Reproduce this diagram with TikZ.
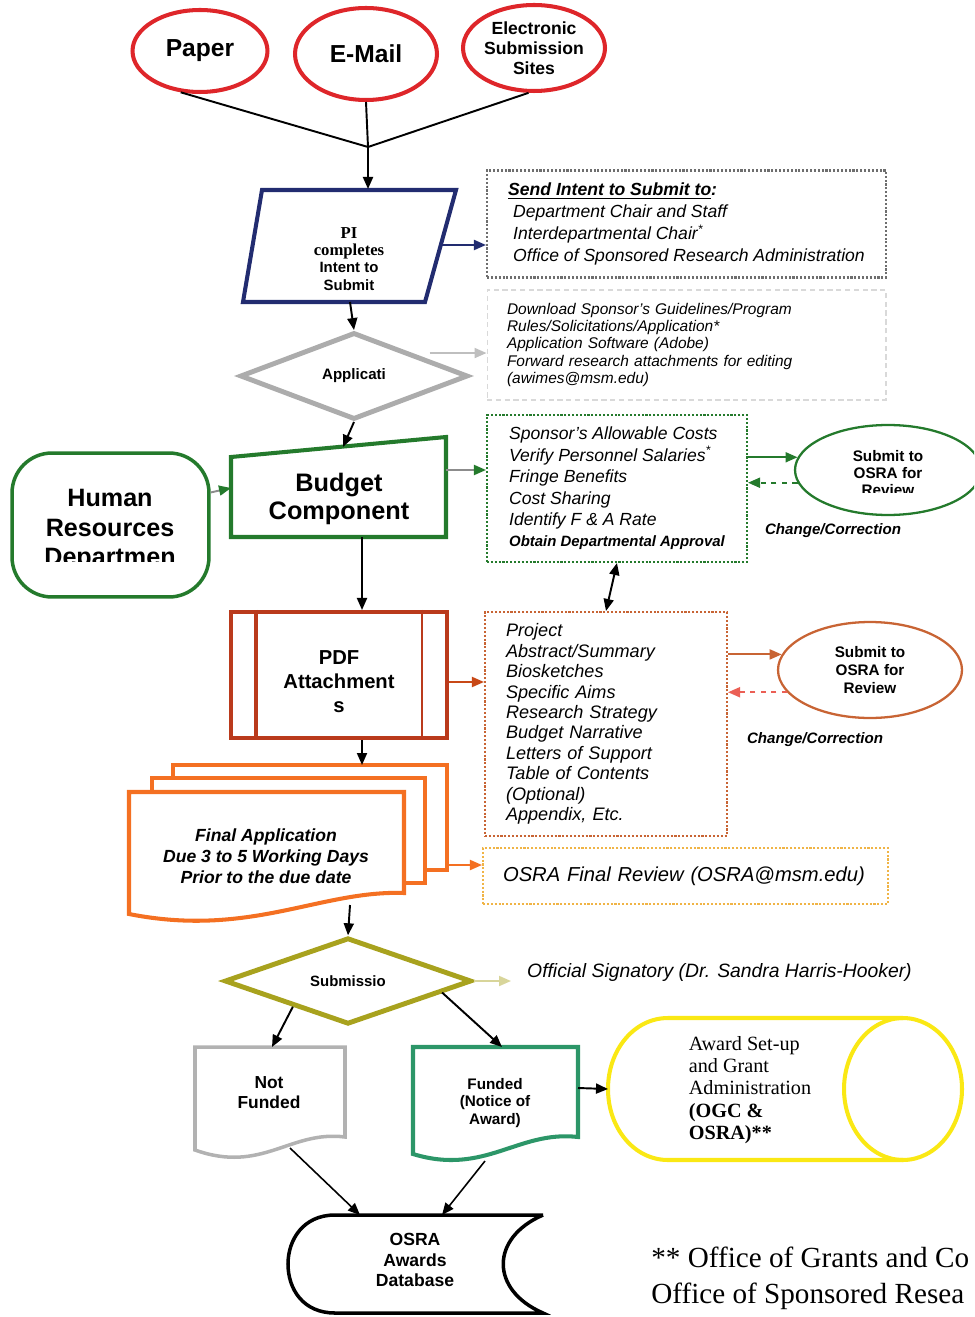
\documentclass[tikz,border=0pt]{standalone}
\usepackage{fontspec}
\setmainfont{Liberation Sans}
\newfontfamily\romanface{Liberation Serif}
\usepackage{xcolor}
\usepackage{tikz}
\usetikzlibrary{positioning,arrows.meta,shapes.geometric}

\definecolor{srcred}{RGB}{222,38,42}
\definecolor{navy}{RGB}{34,44,112}
\definecolor{diagray}{RGB}{172,172,172}
\definecolor{budgreen}{RGB}{36,122,44}
\definecolor{pdfred}{RGB}{186,58,28}
\definecolor{osubbrown}{RGB}{200,100,52}
\definecolor{dashred}{RGB}{235,95,85}
\definecolor{apporange}{RGB}{244,112,34}
\definecolor{finaldot}{RGB}{240,180,70}
\definecolor{subolive}{RGB}{168,162,30}
\definecolor{fundgreen}{RGB}{44,150,104}
\definecolor{awardyellow}{RGB}{250,232,20}
\definecolor{dotgray}{RGB}{110,110,110}

\begin{document}
\begin{tikzpicture}[x=0.02cm, y=-0.02cm,
  source/.style={ellipse, draw=srcred, line width=2.3pt, align=center, inner sep=0pt},
  note/.style={rectangle, draw=dotgray, densely dotted, line width=1.2pt, align=left, inner xsep=0.4cm, inner ysep=0pt},
  oval/.style={ellipse, line width=1.3pt, align=center, inner sep=0pt, font=\bfseries\fontsize{8.7}{10}\selectfont},
  caption/.style={align=center, font=\bfseries\itshape\fontsize{8.6}{10}\selectfont},
  arrow/.style={-{Triangle[length=0.24cm, width=0.2cm]}, line width=1.1pt},
  garrow/.style={-{Triangle[length=0.24cm, width=0.2cm, color=budgreen]}, line width=1.1pt, draw=black!45},
  twoway/.style={{Triangle[length=0.24cm, width=0.2cm]}-{Triangle[length=0.24cm, width=0.2cm]}, line width=1.1pt},
  link/.style={line width=1.1pt}
]
\clip (0,0) rectangle (974,1317);

% Submission sources
\node[source, minimum width=2.70cm, minimum height=1.64cm, font=\bfseries\fontsize{14}{16}\selectfont] (paper) at (200,51) {Paper};
\node[source, minimum width=2.84cm, minimum height=1.84cm, font=\bfseries\fontsize{14}{16}\selectfont] (email) at (366,54) {E-Mail};
\node[source, minimum width=2.84cm, minimum height=1.72cm, font=\bfseries\fontsize{10}{11.3}\selectfont] (esub) at (534,48) {Electronic\\Submission\\Sites};
\coordinate (join) at (368,147);
\draw[link] (paper.245) -- (join);
\draw[link] (email.south) -- (join);
\draw[link] (esub.263) -- (join);

% PI intent
\draw[navy, line width=2.3pt] (262,190) -- (456,190) -- (425,302) -- (243,302) -- cycle;
\node[align=center, font=\bfseries\fontsize{8.5}{9.8}\selectfont] (pi) at (349,259) {{\romanface\fontsize{9.5}{10}\selectfont PI}\\{\romanface\fontsize{9.5}{10}\selectfont completes}\\Intent to\\Submit};
\coordinate (pitop) at (368,189);
\coordinate (piright) at (441,245);
\coordinate (pibot) at (350,302);
\draw[arrow] (join) -- (pitop);

\node[note, minimum width=7.98cm, minimum height=2.14cm, font=\itshape\fontsize{10}{12.6}\selectfont] (intent) at (686.5,224) {\textbf{\underline{Send Intent to Submit to}:}\\
\hspace*{0.1cm}Department Chair and Staff\\
\hspace*{0.1cm}Interdepartmental Chair\textsuperscript{*}\\
\hspace*{0.1cm}Office of Sponsored Research Administration};
\draw[arrow, navy] (piright) -- (piright -| intent.west);

% Application
\node[note, draw=black!15, densely dashed, line width=0.6pt, minimum width=7.98cm, minimum height=2.20cm, text width=7.18cm, font=\itshape\fontsize{8.8}{9.9}\selectfont] (rules) at (686.5,345) {Download Sponsor's Guidelines/Program\\
Rules/Solicitations/Application*\\
Application Software (Adobe)\\
Forward research attachments for editing\\
(awimes@msm.edu)};
\node[diamond, draw=diagray, line width=2.8pt, minimum width=4.56cm, minimum height=1.74cm, inner sep=0pt, font=\bfseries\fontsize{8.6}{10}\selectfont] (appl) at (354,376) {Applicati};
\draw[arrow] (pibot) -- (appl.north);
\draw[arrow, black!25, shorten <=0.35cm] (appl.north east) -- (appl.north east -| rules.west);

% Budget row
\draw[budgreen, line width=2.3pt] (231,457) -- (446,437) -- (446,537) -- (231,537) -- cycle;
\node[align=center, font=\bfseries\fontsize{14.4}{16}\selectfont] (budget) at (339,499) {Budget\\Component};
\coordinate (budtop) at (343,447);
\coordinate (budleft) at (231,488);
\coordinate (budright) at (446,470);
\coordinate (budbot) at (362,537);
\draw[arrow] (appl.south) -- (budtop);

\node[draw=budgreen, line width=2pt, rounded corners=0.8cm, minimum width=3.94cm, minimum height=2.88cm] (hr) at (110.5,525) {};
\begin{scope}
  \clip (12,440) rectangle (209,561);
  \node[align=center, font=\bfseries\fontsize{14.3}{17}\selectfont] (hrtxt) at (110,530) {Human\\Resources\\Departmen};
\end{scope}
\draw[garrow] (hr.18) -- (budleft);

\node[note, draw=budgreen, minimum width=5.20cm, minimum height=2.94cm, font=\itshape\fontsize{10}{12.2}\selectfont] (budlist) at (617,488.5) {Sponsor's Allowable Costs\\
Verify Personnel Salaries\textsuperscript{*}\\
Fringe Benefits\\
Cost Sharing\\
Identify F \& A Rate\\
{\bfseries\fontsize{8.5}{10}\selectfont Obtain Departmental Approval}};
\draw[garrow] (budright) -- (budright -| budlist.west);

\node[oval, draw=budgreen, minimum width=3.72cm, minimum height=1.80cm] (gsub) at (888,470) {};
\begin{scope}
  \clip (790,420) rectangle (974,492);
  \node[align=center, font=\bfseries\fontsize{8.7}{9.6}\selectfont] (gsubtxt) at (888,473) {Submit to\\OSRA for\\Review};
\end{scope}
\draw[garrow, draw=budgreen] (gsub.172 -| budlist.east) -- (gsub.172);
\draw[garrow, draw=budgreen, dashed] (gsub.188) -- (gsub.188 -| budlist.east);
\node[caption] (corr1) at (833,531) {Change/Correction};

% PDF row
\node[draw=pdfred, line width=2.3pt, minimum width=4.32cm, minimum height=2.52cm] (pdf) at (339,675) {};
\draw[pdfred, line width=2.3pt] ([xshift=0.54cm]pdf.north west) -- ([xshift=0.54cm]pdf.south west);
\draw[pdfred, line width=1.5pt] ([xshift=-0.54cm]pdf.north east) -- ([xshift=-0.54cm]pdf.south east);
\node[align=center, font=\bfseries\fontsize{11.5}{13.6}\selectfont] (pdftxt) at (339,682) {PDF\\Attachment\\s};
\draw[arrow] (budbot) -- (budbot |- pdf.north);

\node[note, draw=osubbrown, minimum width=4.84cm, minimum height=4.48cm, text width=4.0cm, font=\itshape\fontsize{10.3}{11.6}\selectfont] (pdflist) at (606,724) {Project\\
Abstract/Summary\\
Biosketches\\
Specific Aims\\
Research Strategy\\
Budget Narrative\\
Letters of Support\\
Table of Contents\\
(Optional)\\
Appendix, Etc.};
\draw[arrow, pdfred!80!orange] (pdftxt.east -| pdf.east) -- (pdftxt.east -| pdflist.west);
\draw[twoway] (budlist.south) -- (pdflist.north);

\node[oval, draw=osubbrown, minimum width=3.68cm, minimum height=1.92cm] (osub) at (870,670) {Submit to\\OSRA for\\Review};
\draw[arrow, osubbrown] (osub.170 -| pdflist.east) -- (osub.170);
\draw[arrow, dashred, dashed] (osub.195) -- (osub.195 -| pdflist.east);
\node[caption] (corr2) at (815,740) {Change/Correction};

% Final application stack
\draw[apporange, line width=2.3pt] (173,765) rectangle (447,870);
\draw[apporange, line width=2.3pt, fill=white] (152,778) rectangle (425,883);
\draw[apporange, line width=2.3pt, fill=white] (129,792) -- (404,792) -- (404,893) .. controls (320,890) and (250,938) .. (129,914) -- cycle;
\node[align=center, font=\bfseries\itshape\fontsize{10}{12}\selectfont] (final) at (266,856) {Final Application\\Due 3 to 5 Working Days\\Prior to the due date};
\coordinate (fintop) at (362,765);
\coordinate (finright) at (447,865);
\coordinate (finbot) at (350,905);
\draw[arrow] (pdf.south -| fintop) -- (fintop);

\node[note, draw=finaldot, minimum width=8.10cm, minimum height=1.12cm, inner xsep=0.4cm, text width=7.3cm, font=\itshape\fontsize{11.5}{14}\selectfont] (review) at (685.5,876) {OSRA Final Review (OSRA@msm.edu)};
\draw[arrow, apporange] (finright) -- (finright -| review.west);

% Submission
\node[diamond, draw=subolive, line width=2.8pt, minimum width=4.94cm, minimum height=1.56cm, inner sep=0pt, font=\bfseries\fontsize{8.5}{10}\selectfont] (subm) at (348,981) {Submissio};
\draw[arrow] (finbot) -- (subm.north);
\node[anchor=west, font=\itshape\fontsize{11}{13}\selectfont] (signatory) at (521,972) {Official Signatory (Dr. Sandra Harris-Hooker)};
\draw[arrow, subolive!45, shorten >=0.2cm] (subm.east) -- (subm.east -| signatory.west);

% Outcomes
\draw[black!30, line width=2pt] (195,1047) -- (345,1047) -- (345,1137) .. controls (290,1130) and (262,1174) .. (195,1150) -- cycle;
\node[align=center, font=\bfseries\fontsize{9.9}{11.3}\selectfont] (notfunded) at (269,1093) {Not\\Funded};
\draw[fundgreen, line width=2.3pt] (413,1047) -- (578,1047) -- (578,1137) .. controls (518,1130) and (485,1176) .. (413,1154) -- cycle;
\node[align=center, font=\bfseries\fontsize{8.7}{10.2}\selectfont] (funded) at (495,1103) {Funded\\(Notice of\\Award)};
\coordinate (nftop) at (272,1047);
\coordinate (nfbot) at (290,1148);
\coordinate (fdtop) at (502,1047);
\coordinate (fdbot) at (485,1161);
\coordinate (fdright) at (578,1088);
\draw[arrow] (subm.205) -- (nftop);
\draw[arrow] (subm.-7) -- (fdtop);

% Award set-up cylinder
\draw[awardyellow, line width=2.3pt] (668,1018) -- (903,1018) (668,1160) -- (903,1160)
  (668,1018) .. controls (634,1018) and (608,1050) .. (608,1089) .. controls (608,1128) and (634,1160) .. (668,1160);
\draw[awardyellow, line width=2.3pt] (903,1089) ellipse [x radius=1.18cm, y radius=1.42cm];
\coordinate (awardleft) at (608,1089);
\node[align=left, font=\romanface\fontsize{11.5}{12.6}\selectfont] (awardtxt) at (750,1090) {Award Set-up\\and Grant\\Administration\\\textbf{(OGC \&}\\\textbf{OSRA)**}};
\draw[arrow] (fdright) -- (awardleft);

% Awards database
\draw[line width=2pt] (543,1215) -- (335,1215) .. controls (303,1215) and (288,1240) .. (288,1264) .. controls (288,1289) and (303,1313) .. (335,1313) -- (543,1313) .. controls (490,1290) and (490,1238) .. (543,1215);
\node[align=center, font=\bfseries\fontsize{10}{11.9}\selectfont] (db) at (415,1260) {OSRA\\Awards\\Database};
\coordinate (dbleft) at (360,1215);
\coordinate (dbright) at (442,1215);
\draw[arrow, line width=0.9pt] (nfbot) -- (dbleft);
\draw[arrow, line width=0.9pt] (fdbot) -- (dbright);

\node[anchor=north west, align=left, inner sep=0pt, font=\romanface\fontsize{16.6}{20}\selectfont] (footnote) at (651,1247) {** Office of Grants and Co\\Office of Sponsored Resea};

\end{tikzpicture}
\end{document}
